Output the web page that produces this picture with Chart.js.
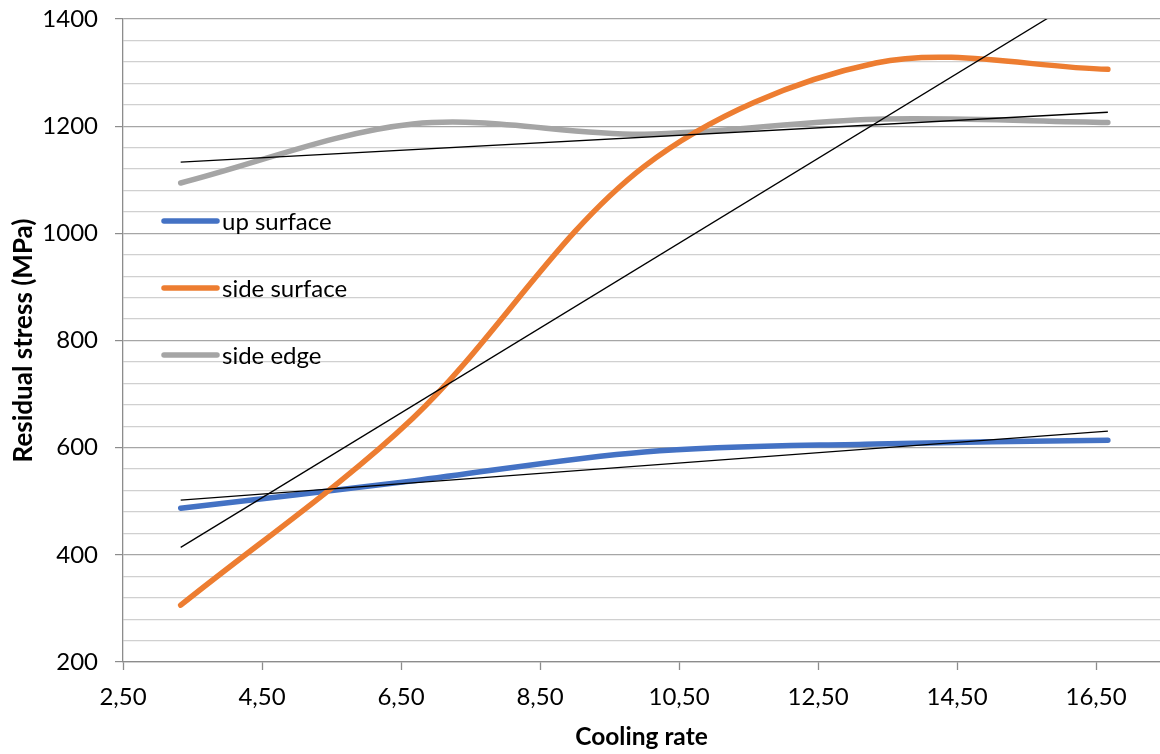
<!DOCTYPE html>
<html>
<head>
<meta charset="utf-8">
<script src="https://cdn.jsdelivr.net/npm/chart.js@4/dist/chart.umd.min.js"></script>
<style>
  html, body { margin: 0; padding: 0; background: #ffffff; overflow: hidden; }
  #wrap { position: relative; width: 1160px; height: 754px; }
</style>
</head>
<body>
<div id="wrap"><canvas id="c"></canvas></div>
<script>
// ---- data ----
const coolingRate   = [3.33, 6.67, 10.0, 13.33, 16.67];
const upSurface     = [487, 538, 592, 607, 614];
const sideSurface   = [306, 655, 1125, 1318, 1306];
const sideEdge      = [1094, 1204, 1185, 1213, 1207];

const trendX           = [3.33, 16.67];
const trendUpSurface   = [502, 631];
const trendSideSurface = [414, 1470];
const trendSideEdge    = [1133, 1226];

const xTickValues = [2.5, 4.5, 6.5, 8.5, 10.5, 12.5, 14.5, 16.5];
const seriesNames = ['up surface', 'side surface', 'side edge'];
const seriesColors = ['#4472C4', '#ED7D31', '#A5A5A5'];

const pts = (xs, ys) => xs.map((x, i) => ({ x: x, y: ys[i] }));

const FONT = 'Lato, "Open Sans", sans-serif';

const seriesDs = (i, ys, order) => ({
  label: seriesNames[i],
  data: pts(coolingRate, ys),
  borderColor: seriesColors[i],
  backgroundColor: seriesColors[i],
  borderWidth: 5.5,
  borderCapStyle: 'round',
  borderJoinStyle: 'round',
  pointRadius: 0,
  tension: 0.33,
  fill: false,
  order: order
});
const trendDs = (ys) => ({
  label: 'trend',
  data: pts(trendX, ys),
  borderColor: '#000000',
  borderWidth: 1.3,
  pointRadius: 0,
  tension: 0,
  fill: false,
  order: 0
});

const legendPlugin = {
  id: 'insideLegend',
  afterDatasetsDraw(chart) {
    const ctx = chart.ctx;
    const ys = [221, 288, 355];
    ctx.save();
    seriesNames.forEach((name, i) => {
      ctx.beginPath();
      ctx.lineCap = 'round';
      ctx.lineWidth = 5.5;
      ctx.strokeStyle = seriesColors[i];
      ctx.moveTo(164, ys[i]);
      ctx.lineTo(217, ys[i]);
      ctx.stroke();
      ctx.fillStyle = '#000000';
      ctx.font = '24px ' + FONT;
      ctx.textBaseline = 'middle';
      ctx.textAlign = 'left';
      ctx.fillText(name, 222, ys[i] + 1);
    });
    ctx.restore();
  }
};

new Chart(document.getElementById('c'), {
  type: 'line',
  data: {
    datasets: [
      trendDs(trendUpSurface),
      trendDs(trendSideSurface),
      trendDs(trendSideEdge),
      seriesDs(0, upSurface, 2),
      seriesDs(1, sideSurface, 1),
      seriesDs(2, sideEdge, 3)
    ]
  },
  options: {
    responsive: true,
    maintainAspectRatio: false,
    animation: false,
    layout: { padding: { top: 19, right: 0, left: 0, bottom: 0 } },
    plugins: { legend: { display: false }, tooltip: { enabled: false } },
    scales: {
      x: {
        type: 'linear',
        min: 2.5,
        max: 17.42,
        afterBuildTicks: (s) => { s.ticks = xTickValues.map(v => ({ value: v })); },
        afterFit: (s) => { s.height = 92; s.paddingLeft = 0; s.paddingRight = 0; },
        grid: { drawOnChartArea: false, drawTicks: true, tickLength: 8, tickColor: '#8c8c8c', tickWidth: 1.3 },
        border: { color: '#8c8c8c', width: 1.3 },
        ticks: {
          autoSkip: false,
          maxRotation: 0,
          padding: 13,
          color: '#000000',
          font: { family: FONT, size: 24 },
          callback: (v) => Number(v).toFixed(2).replace('.', ',')
        },
        title: {
          display: true,
          text: 'Cooling rate',
          color: '#000000',
          font: { family: FONT, size: 24.5, weight: 'bold' },
          padding: { top: 0, bottom: 2 }
        }
      },
      y: {
        min: 200,
        max: 1400,
        afterFit: (s) => { s.width = 123; s.paddingTop = 0; s.paddingBottom = 0; },
        grid: {
          color: (c) => (c.tick && c.tick.value % 200 === 0) ? '#a6a6a6' : '#d0d0d0',
          lineWidth: 1.2,
          tickLength: 8,
          tickColor: (c) => (c.tick && c.tick.value % 200 === 0) ? '#8c8c8c' : 'rgba(0,0,0,0)'
        },
        border: { color: '#8c8c8c', width: 1.3 },
        ticks: {
          stepSize: 40,
          autoSkip: false,
          padding: 17,
          color: '#000000',
          font: { family: FONT, size: 24 },
          callback: (v) => (v % 200 === 0 ? String(v) : '')
        },
        title: {
          display: true,
          text: 'Residual stress (MPa)',
          color: '#000000',
          font: { family: FONT, size: 26, weight: 'bold' },
          padding: { top: 8, bottom: 0 }
        }
      }
    }
  },
  plugins: [legendPlugin]
});
</script>
</body>
</html>
